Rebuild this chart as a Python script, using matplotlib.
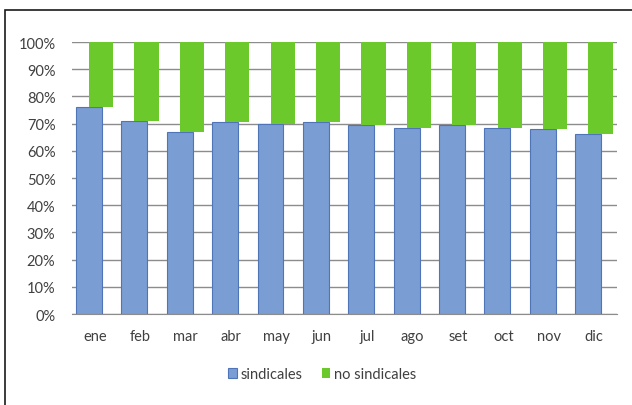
import matplotlib.pyplot as plt
import numpy as np
from matplotlib.patches import Rectangle
from matplotlib.ticker import PercentFormatter

meses = ['ene', 'feb', 'mar', 'abr', 'may', 'jun', 'jul', 'ago', 'set', 'oct', 'nov', 'dic']
sindicales = [76, 71, 67, 70.7, 70, 70.7, 69.5, 68.4, 69.5, 68.4, 68, 66.2]
no_sindicales = [100 - v for v in sindicales]

plt.rcParams['font.family'] = ['Lato', 'DejaVu Sans']

fig = plt.figure(figsize=(6.32, 4.06), dpi=100)
ax = fig.add_axes([0.114, 0.224, 0.862, 0.670])

# outer frame of the chart area
fig.patches.append(Rectangle((5 / 632, -0.1), 1.2, 1 - 11 / 406 + 0.1,
                             transform=fig.transFigure, fill=False,
                             edgecolor='#1a1a1a', linewidth=1.2))

x = np.arange(len(meses))
ax.bar(x - 0.13, sindicales, width=0.57, color='#7a9dd3',
       edgecolor='#4f74b8', linewidth=0.8, label='sindicales', zorder=3)
ax.bar(x + 0.14, no_sindicales, width=0.53, bottom=sindicales,
       color='#6cc92c', linewidth=0, label='no sindicales', zorder=3)

ax.set_xlim(-0.5, len(meses) - 0.5)
ax.set_ylim(0, 100)
ax.set_yticks(np.arange(0, 101, 10))
ax.yaxis.set_major_formatter(PercentFormatter(decimals=0))
ax.set_xticks(x)
ax.set_xticklabels(meses)
ax.grid(axis='y', color='#8c8c8c', linewidth=1.0, zorder=0)
for s in ['top', 'right', 'left']:
    ax.spines[s].set_visible(False)
ax.spines['bottom'].set_color('#8c8c8c')
ax.tick_params(axis='both', length=0, labelsize=10.5, colors='#404040')
ax.tick_params(axis='x', pad=11)
ax.tick_params(axis='y', pad=12)

fig.legend(loc='center', bbox_to_anchor=(0.51, 0.076), ncol=2, frameon=False,
           fontsize=10.5, labelcolor='#404040', handlelength=0.6,
           handleheight=0.6, handletextpad=0.25, columnspacing=1.3)

fig.savefig('out.png', dpi=100)
